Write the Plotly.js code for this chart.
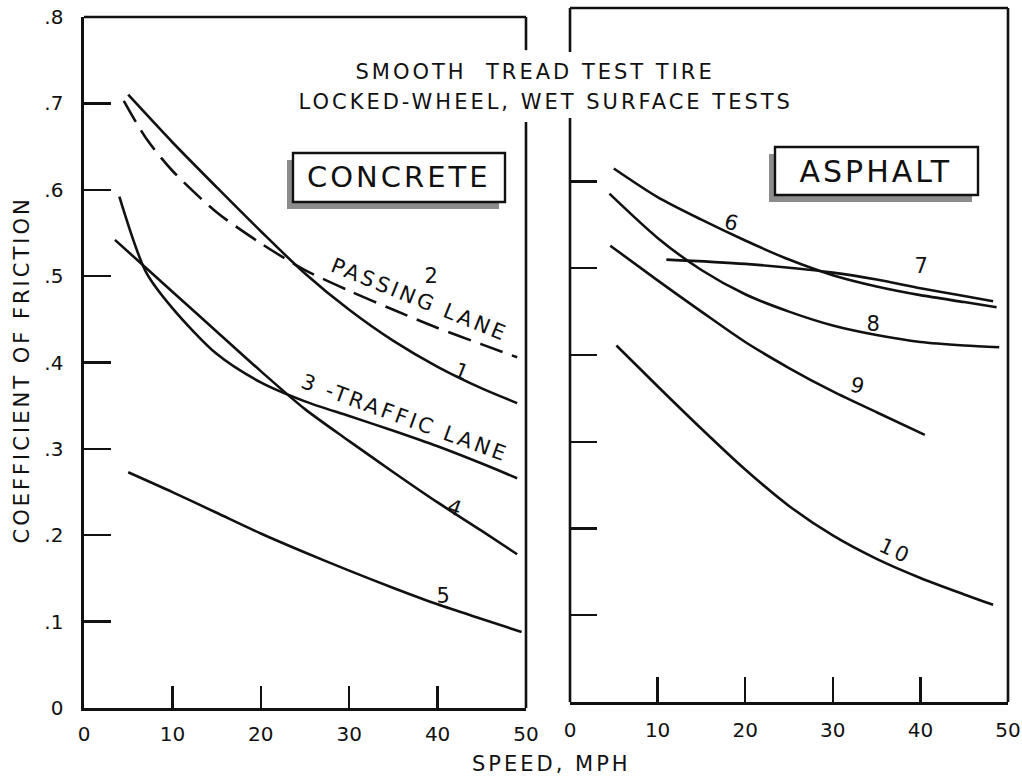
<!DOCTYPE html>
<html><head><meta charset="utf-8">
<script src="https://cdn.plot.ly/plotly-3.0.1.min.js"></script>
<style>
html,body{margin:0;padding:0;background:#fff;}
#chart{width:1022px;height:780px;}
#chart .annotation-text{letter-spacing:3px;}
</style></head><body><div id="chart"></div>
<script>
// ---- Data ----
// Concrete surface (left panel)
const c1_speed = [5, 10, 15, 20, 25, 30, 35, 40, 45, 49];
const c1_mu    = [0.71, 0.655, 0.603, 0.552, 0.503, 0.461, 0.425, 0.395, 0.37, 0.353];
const c2_speed = [4.5, 7, 10, 15, 20, 25, 30, 35, 40, 45, 49];
const c2_mu    = [0.703, 0.66, 0.622, 0.574, 0.538, 0.507, 0.483, 0.461, 0.44, 0.421, 0.406];
const c3_speed = [4, 7, 10, 15, 20, 25, 30, 35, 40, 45, 49];
const c3_mu    = [0.592, 0.505, 0.463, 0.41, 0.377, 0.355, 0.338, 0.321, 0.303, 0.283, 0.266];
const c4_speed = [3.5, 10, 15, 20, 25, 30, 35, 40, 45, 49];
const c4_mu    = [0.542, 0.482, 0.436, 0.39, 0.346, 0.309, 0.273, 0.238, 0.205, 0.178];
const c5_speed = [5, 10, 15, 20, 25, 30, 35, 40, 45, 49.5];
const c5_mu    = [0.273, 0.25, 0.226, 0.202, 0.18, 0.159, 0.139, 0.12, 0.103, 0.088];
// Asphalt surface (right panel)
const c6_speed = [5, 10, 15, 20, 25, 30, 35, 40, 45, 48.7];
const c6_mu    = [0.615, 0.582, 0.556, 0.532, 0.51, 0.492, 0.479, 0.469, 0.461, 0.455];
const c7_speed = [11, 20, 30, 35, 40, 45, 48.3];
const c7_mu    = [0.51, 0.505, 0.495, 0.487, 0.477, 0.468, 0.462];
const c8_speed = [4.5, 10, 15, 20, 25, 30, 35, 40, 45, 49];
const c8_mu    = [0.586, 0.535, 0.498, 0.47, 0.45, 0.434, 0.423, 0.415, 0.411, 0.409];
const c9_speed = [4.6, 10, 15, 20, 25, 30, 35, 40.5];
const c9_mu    = [0.526, 0.486, 0.45, 0.415, 0.385, 0.358, 0.334, 0.308];
const c10_speed = [5.3, 10, 15, 20, 25, 30, 35, 40, 45, 48.3];
const c10_mu    = [0.411, 0.364, 0.315, 0.268, 0.226, 0.192, 0.165, 0.143, 0.124, 0.112];

const xTickVals = [0, 10, 20, 30, 40, 50];
const xTickText = ['0', '10', '20', '30', '40', '50'];
const yTickVals = [0, 0.1, 0.2, 0.3, 0.4, 0.5, 0.6, 0.7, 0.8];
const yTickText = ['0', '.1', '.2', '.3', '.4', '.5', '.6', '.7', '.8'];
const y2TickVals = [0.1, 0.2, 0.3, 0.4, 0.5, 0.6];

// ---- Layout helpers ----
const W = 1022, H = 780;
const px = x => x / W, py = y => 1 - y / H;
const INK = '#111';
const FONT = 'DejaVu Sans, Liberation Sans, sans-serif';

function curve(xs, ys, axis, dash) {
  return {
    x: xs, y: ys, type: 'scatter', mode: 'lines',
    xaxis: axis === 2 ? 'x2' : 'x', yaxis: axis === 2 ? 'y2' : 'y',
    line: {color: INK, width: 2.6, shape: 'spline', smoothing: 0.8, dash: dash || 'solid'},
    hoverinfo: 'skip'
  };
}

const traces = [
  curve(c1_speed, c1_mu, 1),
  curve(c2_speed, c2_mu, 1, '24px,10px'),
  curve(c3_speed, c3_mu, 1),
  curve(c4_speed, c4_mu, 1),
  curve(c5_speed, c5_mu, 1),
  curve(c6_speed, c6_mu, 2),
  curve(c7_speed, c7_mu, 2),
  curve(c8_speed, c8_mu, 2),
  curve(c9_speed, c9_mu, 2),
  curve(c10_speed, c10_mu, 2)
];

const axisCommon = {
  showgrid: false, zeroline: false, showline: true, linecolor: INK, linewidth: 2.6,
  ticks: 'inside', tickcolor: INK, tickwidth: 2.4,
  tickfont: {family: FONT, size: 20, color: INK}, fixedrange: true
};

function seg(xref, yref, x0, y0, x1, y1) {
  return {type: 'line', xref, yref, x0, y0, x1, y1, line: {color: INK, width: 2.6}};
}

const shapes = [
  // left panel frame (top + right with gap for title)
  seg('x domain', 'y domain', 0, 1, 1, 1),
  seg('x domain', 'y domain', 1, 0, 1, 0.848),
  seg('x domain', 'y domain', 1, 0.952, 1, 1),
  // right panel frame (left with gap, top, right)
  seg('x2 domain', 'y2 domain', 0, 0, 0, 0.8415),
  seg('x2 domain', 'y2 domain', 0, 0.9366, 0, 1),
  seg('x2 domain', 'y2 domain', 0, 1, 1, 1),
  seg('x2 domain', 'y2 domain', 1, 0, 1, 1),
  // CONCRETE box shadow + box
  {type: 'rect', xref: 'paper', yref: 'paper', x0: px(287), x1: px(499), y0: py(209), y1: py(160),
   fillcolor: '#8c8c8c', line: {width: 0}},
  {type: 'rect', xref: 'paper', yref: 'paper', x0: px(293), x1: px(505), y0: py(202), y1: py(153),
   fillcolor: '#fff', line: {color: INK, width: 2.4}},
  // ASPHALT box shadow + box
  {type: 'rect', xref: 'paper', yref: 'paper', x0: px(769), x1: px(972), y0: py(202), y1: py(154),
   fillcolor: '#8c8c8c', line: {width: 0}},
  {type: 'rect', xref: 'paper', yref: 'paper', x0: px(775), x1: px(978), y0: py(195), y1: py(147),
   fillcolor: '#fff', line: {color: INK, width: 2.4}}
];

function note(text, x, y, opts) {
  return Object.assign({
    text, x, y, xref: 'paper', yref: 'paper', showarrow: false,
    xanchor: 'center', yanchor: 'middle',
    font: {family: FONT, size: 20, color: INK}
  }, opts || {});
}
function lab(text, x, y, axis, size, angle) {
  return {
    text, x, y, xref: axis === 2 ? 'x2' : 'x', yref: axis === 2 ? 'y2' : 'y',
    showarrow: false, xanchor: 'center', yanchor: 'middle', textangle: angle || 0,
    font: {family: FONT, size: size, color: INK}
  };
}

const annotations = [
  note('SMOOTH  TREAD TEST TIRE', px(535), py(72), {font: {family: FONT, size: 21, color: INK}}),
  note('LOCKED-WHEEL, WET SURFACE TESTS', px(545), py(102), {font: {family: FONT, size: 21, color: INK}}),
  note('CONCRETE', px(399), py(177), {font: {family: FONT, size: 29, color: INK}}),
  note('ASPHALT', px(876), py(171), {font: {family: FONT, size: 30, color: INK}}),
  note('COEFFICIENT OF FRICTION', px(22), py(370), {textangle: -90, font: {family: FONT, size: 21, color: INK}}),
  note('SPEED, MPH', px(551), py(764), {font: {family: FONT, size: 21, color: INK}}),
  // curve labels, concrete
  lab('2', 39.4, 0.5, 1, 21, 0),
  lab('PASSING LANE', 38.0, 0.472, 1, 21, 22),
  lab('1', 42.8, 0.389, 1, 21, 22),
  lab('3 -TRAFFIC LANE', 36.3, 0.336, 1, 21, 20),
  lab('4', 42.0, 0.231, 1, 21, 20),
  lab('5', 40.8, 0.13, 1, 21, 0),
  // curve labels, asphalt
  lab('6', 18.5, 0.552, 2, 21, 15),
  lab('7', 40.2, 0.503, 2, 21, 0),
  lab('8', 34.8, 0.436, 2, 21, 0),
  lab('9', 32.9, 0.364, 2, 21, 15),
  lab('10', 37.1, 0.174, 2, 21, 25)
];

const layout = {
  width: W, height: H, margin: {l: 0, r: 0, t: 0, b: 0},
  paper_bgcolor: '#fff', plot_bgcolor: 'rgba(0,0,0,0)', showlegend: false,
  font: {family: FONT, color: INK},
  xaxis: Object.assign({}, axisCommon, {
    domain: [px(84), px(526)], range: [0, 50], anchor: 'y',
    tickvals: xTickVals, ticktext: xTickText, ticklen: 22, ticklabelstandoff: 6
  }),
  yaxis: Object.assign({}, axisCommon, {
    domain: [py(708), py(17)], range: [0, 0.8], anchor: 'x',
    tickvals: yTickVals, ticktext: yTickText, ticklen: 27, ticklabelstandoff: 14
  }),
  xaxis2: Object.assign({}, axisCommon, {
    domain: [px(570), px(1008)], range: [0, 50], anchor: 'y2',
    tickvals: xTickVals, ticktext: xTickText, ticklen: 25, ticklabelstandoff: 8
  }),
  yaxis2: Object.assign({}, axisCommon, {
    domain: [py(702), py(8)], range: [0, 0.8], anchor: 'x2', showline: false,
    tickvals: y2TickVals, showticklabels: false, ticklen: 27
  }),
  shapes, annotations
};

Plotly.newPlot('chart', traces, layout, {staticPlot: true, displayModeBar: false});
</script></body></html>
